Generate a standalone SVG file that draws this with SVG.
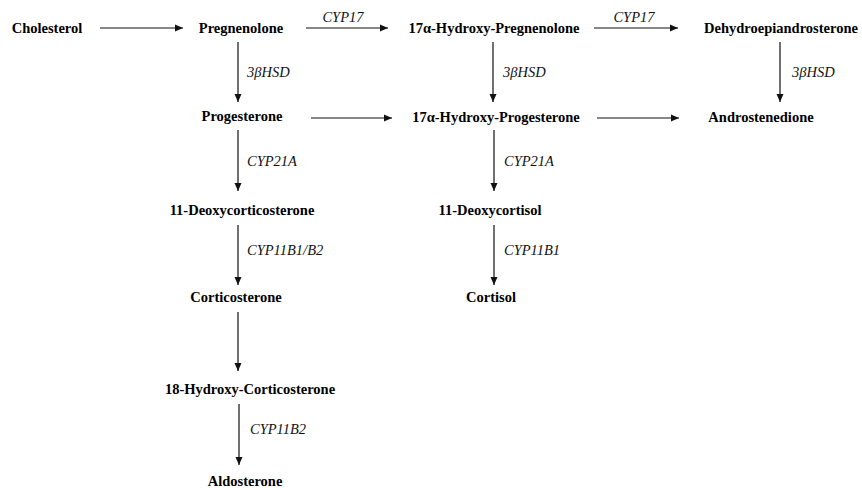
<svg xmlns="http://www.w3.org/2000/svg" width="862" height="488" viewBox="0 0 862 488">
<style>
.n{font-family:"Liberation Serif","Times New Roman",serif;font-weight:bold;font-size:14.5px;fill:#000;text-anchor:middle}
.l{font-family:"Liberation Serif","Times New Roman",serif;font-style:italic;font-size:14.5px;fill:#111}
.c line{stroke:#111;stroke-width:1.2;marker-end:url(#ah)}
</style>
<defs>
<marker id="ah" viewBox="0 0 8 8" refX="8" refY="4" markerWidth="8" markerHeight="8" markerUnits="userSpaceOnUse" orient="auto">
<path d="M0,0.5 L8,4 L0,7.5 Z" fill="#111"/>
</marker>
</defs>
<rect width="862" height="488" fill="#fff"/>
<g class="c" id="connectors">
<line x1="100" y1="28" x2="183" y2="28"/>
<line x1="306" y1="28" x2="388" y2="28"/>
<line x1="594" y1="28" x2="678" y2="28"/>
<line x1="238" y1="42" x2="238" y2="102"/>
<line x1="493" y1="42" x2="493" y2="102"/>
<line x1="780" y1="42" x2="780" y2="102"/>
<line x1="311" y1="118" x2="392" y2="118"/>
<line x1="597" y1="118" x2="679" y2="118"/>
<line x1="238" y1="130" x2="238" y2="191"/>
<line x1="494" y1="130" x2="494" y2="191"/>
<line x1="238" y1="225" x2="238" y2="285"/>
<line x1="494" y1="225" x2="494" y2="285"/>
<line x1="238" y1="312" x2="238" y2="371"/>
<line x1="239" y1="404" x2="239" y2="465"/>
<text class="l" x="343" y="22" text-anchor="middle">CYP17</text>
<text class="l" x="634" y="22" text-anchor="middle">CYP17</text>
<text class="l" x="247" y="77">3βHSD</text>
<text class="l" x="503" y="77">3βHSD</text>
<text class="l" x="792" y="77">3βHSD</text>
<text class="l" x="247" y="166">CYP21A</text>
<text class="l" x="504" y="166">CYP21A</text>
<text class="l" x="247" y="255">CYP11B1/B2</text>
<text class="l" x="504" y="255">CYP11B1</text>
<text class="l" x="250" y="434">CYP11B2</text>
</g>
<g id="cholesterol"><text class="n" x="47" y="33">Cholesterol</text></g>
<g id="pregnenolone"><text class="n" x="241" y="33">Pregnenolone</text></g>
<g id="hydroxy-pregnenolone"><text class="n" x="494" y="33">17α-Hydroxy-Pregnenolone</text></g>
<g id="dhea"><text class="n" x="781" y="33">Dehydroepiandrosterone</text></g>
<g id="progesterone"><text class="n" x="242" y="121">Progesterone</text></g>
<g id="hydroxy-progesterone"><text class="n" x="496" y="122">17α-Hydroxy-Progesterone</text></g>
<g id="androstenedione"><text class="n" x="761" y="122">Androstenedione</text></g>
<g id="deoxycorticosterone"><text class="n" x="242" y="215">11-Deoxycorticosterone</text></g>
<g id="deoxycortisol"><text class="n" x="490" y="215">11-Deoxycortisol</text></g>
<g id="corticosterone"><text class="n" x="236" y="302">Corticosterone</text></g>
<g id="cortisol"><text class="n" x="491" y="302">Cortisol</text></g>
<g id="hydroxy-corticosterone"><text class="n" x="250" y="394">18-Hydroxy-Corticosterone</text></g>
<g id="aldosterone"><text class="n" x="245" y="486">Aldosterone</text></g>
</svg>
